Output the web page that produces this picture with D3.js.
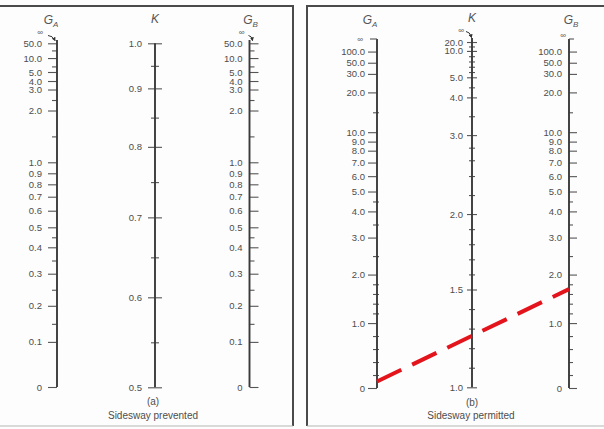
<!DOCTYPE html>
<html><head><meta charset="utf-8">
<script src="https://cdn.jsdelivr.net/npm/d3@7/dist/d3.min.js"></script>
<style>
html,body{margin:0;padding:0;background:#fff;}
svg{display:block;}
</style></head>
<body><svg id="chart" width="604" height="429"></svg>
<script>
// ---------------- data ----------------
// (a) Sidesway prevented
const gLabelsA = [0, 0.1, 0.2, 0.3, 0.4, 0.5, 0.6, 0.7, 0.8, 0.9, 1.0, 2.0, 3.0, 4.0, 5.0, 10.0, 50.0];
const gMinorA  = [0.15, 0.25, 0.35, 0.45, 1.5, 2.5, 7.0, 20.0];
const kLabelsA = [0.5, 0.6, 0.7, 0.8, 0.9, 1.0];
const kMinorA  = [0.55, 0.65, 0.75, 0.85, 0.95];
// (b) Sidesway permitted
const gLabelsB = [0, 1.0, 2.0, 3.0, 4.0, 5.0, 6.0, 7.0, 8.0, 9.0, 10.0, 20.0, 30.0, 50.0, 100.0];
const gMinorB  = [0.2, 0.4, 0.6, 0.8, 1.2, 1.4, 1.6, 1.8, 2.5, 3.5, 4.5, 15.0];
const kLabelsB = [1.0, 1.5, 2.0, 3.0, 4.0, 5.0, 10.0, 20.0];
const kMinorB  = [1.1, 1.2, 1.3, 1.4, 1.6, 1.7, 1.8, 1.9, 2.2, 2.4, 2.6, 2.8, 3.5, 4.5, 6.0, 7.0, 8.0, 9.0, 15.0];
// example solution (red dashed line) on chart (b)
const exampleGA = 0.1;
const exampleGB = 1.7;

// ---------------- nomograph graduations (fraction of scale length; 1 = ∞) ----------------
const gGradValsA = [0, 0.1, 0.2, 0.3, 0.4, 0.5, 0.6, 0.7, 0.8, 0.9, 1, 2, 3, 4, 5, 10, 20, 50];
const gGradFracA = [0, .130, .234, .3265, .4026, .4602, .508, .5484, .5841, .6159, .6476, .7968, .8573, .8818, .9078, .948, .97, .9905];
const kGradValsA = [0.5, 0.6, 0.7, 0.8, 0.9, 1.0];
const kGradFracA = [0, .2616, .494, .699, .869, 1];
const gGradValsB = [0, 1, 2, 3, 4, 5, 6, 7, 8, 9, 10, 20, 30, 50, 100];
const gGradFracB = [0, .186, .325, .431, .506, .563, .607, .646, .680, .706, .733, .847, .900, .932, .964];
const kGradValsB = [1, 1.5, 2, 2.5, 3, 4, 5, 10, 20];
const kGradFracB = [0, .280, .496, .632, .722, .830, .8875, .963, .9885];

// ---------------- layout ----------------
const W = 604, H = 429;
const A = {gBottom: 387, gTop: 40, kBottom: 387.3, kTop: 43.3, xGA: 57, xK: 155, xGB: 249.5, cx: 153};
const B = {gBottom: 388, gTop: 39, kBottom: 387.3, kTop: 38, xGA: 377, xK: 472, xGB: 569, cx: 471};
const FONT = "'Liberation Sans', Arial, Helvetica, sans-serif";
const TXT = "#4d4d4d", TICK = "#555", AXIS = "#3a3a3a";
const LABEL_SIZE = 9.5;

const svg = d3.select("#chart");
svg.append("rect").attr("width", W).attr("height", H).attr("fill", "#fdfdfd");

const defs = svg.append("defs");
defs.append("marker").attr("id", "ah").attr("viewBox", "0 0 10 10").attr("refX", 8).attr("refY", 5)
  .attr("markerWidth", 4).attr("markerHeight", 4).attr("orient", "auto")
  .append("path").attr("d", "M0,0L10,5L0,10z").attr("fill", "#333");

function gradScale(vals, fracs, y0, y1) {
  return d3.scaleLinear().domain(vals).range(fracs.map(f => y0 + (y1 - y0) * f));
}
const sGA = gradScale(gGradValsA, gGradFracA, A.gBottom, A.gTop);
const sKA = gradScale(kGradValsA, kGradFracA, A.kBottom, A.kTop);
const sGB = gradScale(gGradValsB, gGradFracB, B.gBottom, B.gTop);
const sKB = gradScale(kGradValsB, kGradFracB, B.kBottom, B.kTop);

const fmt = v => v === 0 ? "0" : d3.format(".1f")(v);

function styleAxis(sel) {
  sel.select(".domain").remove();
  sel.attr("font-family", FONT).attr("font-size", LABEL_SIZE);
  sel.selectAll(".tick line").attr("stroke", TICK).attr("stroke-width", 1.1);
  sel.selectAll(".tick text").attr("fill", TXT);
}

// o: {left, right, minL, minR, pad, yBottom, yTop}
function drawScale(x, scale, labels, minor, o) {
  const g = svg.append("g").attr("transform", `translate(${x},0)`);
  g.append("g").call(d3.axisLeft(scale).tickValues(labels).tickSize(o.left).tickPadding(o.pad).tickFormat(fmt)).call(styleAxis);
  if (o.right) g.append("g").call(d3.axisRight(scale).tickValues(labels).tickSize(o.right).tickFormat("")).call(styleAxis);
  if (o.minL) g.append("g").call(d3.axisLeft(scale).tickValues(minor).tickSize(o.minL).tickFormat("")).call(styleAxis);
  if (o.minR) g.append("g").call(d3.axisRight(scale).tickValues(minor).tickSize(o.minR).tickFormat("")).call(styleAxis);
  g.append("line").attr("y1", o.yBottom).attr("y2", o.yTop)
    .attr("stroke", AXIS).attr("stroke-width", 1.9);
  return g;
}

function title(x, y, main, sub) {
  const t = svg.append("text").attr("x", x).attr("y", y).attr("text-anchor", "middle")
    .attr("font-family", FONT).attr("font-style", "italic").attr("font-size", 12).attr("fill", "#555").text(main);
  if (sub) t.append("tspan").attr("font-size", 8).attr("dy", 3).text(sub);
}
function infinity(x, y) {
  svg.append("text").attr("x", x).attr("y", y).attr("text-anchor", "middle")
    .attr("font-family", FONT).attr("font-size", 8).attr("fill", "#555").text("∞");
}
function arrow(x1, y1, x2, y2) {
  const cx = (x1 + x2) / 2 + 1;
  svg.append("path").attr("d", `M${x1},${y1} Q${cx},${y1} ${x2},${y2}`)
    .attr("fill", "none").attr("stroke", "#333").attr("stroke-width", 1).attr("marker-end", "url(#ah)");
}
function caption(x, y, s) {
  svg.append("text").attr("x", x).attr("y", y).attr("text-anchor", "middle")
    .attr("font-family", FONT).attr("font-size", 10).attr("fill", TXT).text(s);
}

// ---------------- frames ----------------
const fr = svg.append("g").attr("fill", "none").attr("stroke", "#4a4a4a").attr("stroke-width", 2);
fr.append("path").attr("d", "M0,6H293V426");
fr.append("path").attr("d", "M604,6H307V426");
const frB = svg.append("g").attr("stroke", "#b5b5b5").attr("stroke-width", 1);
frB.append("line").attr("x1", 0).attr("x2", 293).attr("y1", 426).attr("y2", 426);
frB.append("line").attr("x1", 307).attr("x2", 604).attr("y1", 426).attr("y2", 426);

// ---------------- chart (a) ----------------
drawScale(A.xGA, sGA, gLabelsA, gMinorA, {left: 9, pad: 6, minL: 5, yBottom: A.gBottom, yTop: A.gTop});
drawScale(A.xK, sKA, kLabelsA, kMinorA, {left: 7, right: 7, pad: 6, minL: 4, minR: 4, yBottom: A.kBottom, yTop: A.kTop});
drawScale(A.xGB, sGA, gLabelsA, gMinorA, {left: 0, right: 9, pad: 7, minR: 5, yBottom: A.gBottom, yTop: A.gTop});
title(A.xGA - 6, 24, "G", "A");
title(A.xK, 23, "K");
title(A.xGB + 1, 24, "G", "B");
infinity(A.xGA - 17, 35); arrow(A.xGA - 9, 35.5, A.xGA - 2, 40.5);
infinity(A.xGB - 8, 35); arrow(A.xGB - 1, 35.5, A.xGB + 3, 40.5);
caption(A.cx, 405, "(a)");
caption(A.cx, 419, "Sidesway prevented");

// ---------------- chart (b) ----------------
drawScale(B.xGA, sGB, gLabelsB, gMinorB, {left: 9, pad: 3, minL: 4, minR: 2, yBottom: B.gBottom, yTop: B.gTop});
drawScale(B.xK, sKB, kLabelsB, kMinorB, {left: 5, right: 5, pad: 4, minL: 3, minR: 3, yBottom: B.kBottom, yTop: B.kTop});
drawScale(B.xGB, sGB, gLabelsB, gMinorB, {left: 0, right: 8, pad: 7, minR: 4, yBottom: B.gBottom, yTop: B.gTop});
// ∞ graduation at top of the G scales
svg.append("line").attr("x1", B.xGA - 7).attr("x2", B.xGA).attr("y1", B.gTop).attr("y2", B.gTop).attr("stroke", TICK).attr("stroke-width", 1.1);
svg.append("line").attr("x1", B.xGB).attr("x2", B.xGB + 5).attr("y1", B.gTop).attr("y2", B.gTop).attr("stroke", TICK).attr("stroke-width", 1.1);
infinity(B.xGA - 17, B.gTop + 2.5);
infinity(B.xGB - 6, B.gTop - 1);
infinity(B.xK - 11, B.kTop - 5); arrow(B.xK - 6, B.kTop - 6.5, B.xK - 0.5, B.kTop - 0.5);
title(B.xGA - 7, 24, "G", "A");
title(B.xK, 22, "K");
title(B.xGB + 2, 24, "G", "B");
caption(B.cx + 1, 406, "(b)");
caption(B.cx, 419, "Sidesway permitted");

// example solution line
svg.append("line")
  .attr("x1", B.xGA).attr("y1", sGB(exampleGA))
  .attr("x2", B.xGB).attr("y2", sGB(exampleGB))
  .attr("stroke", "#e3141b").attr("stroke-width", 4)
  .attr("stroke-dasharray", "27 12");
</script>
</body></html>
